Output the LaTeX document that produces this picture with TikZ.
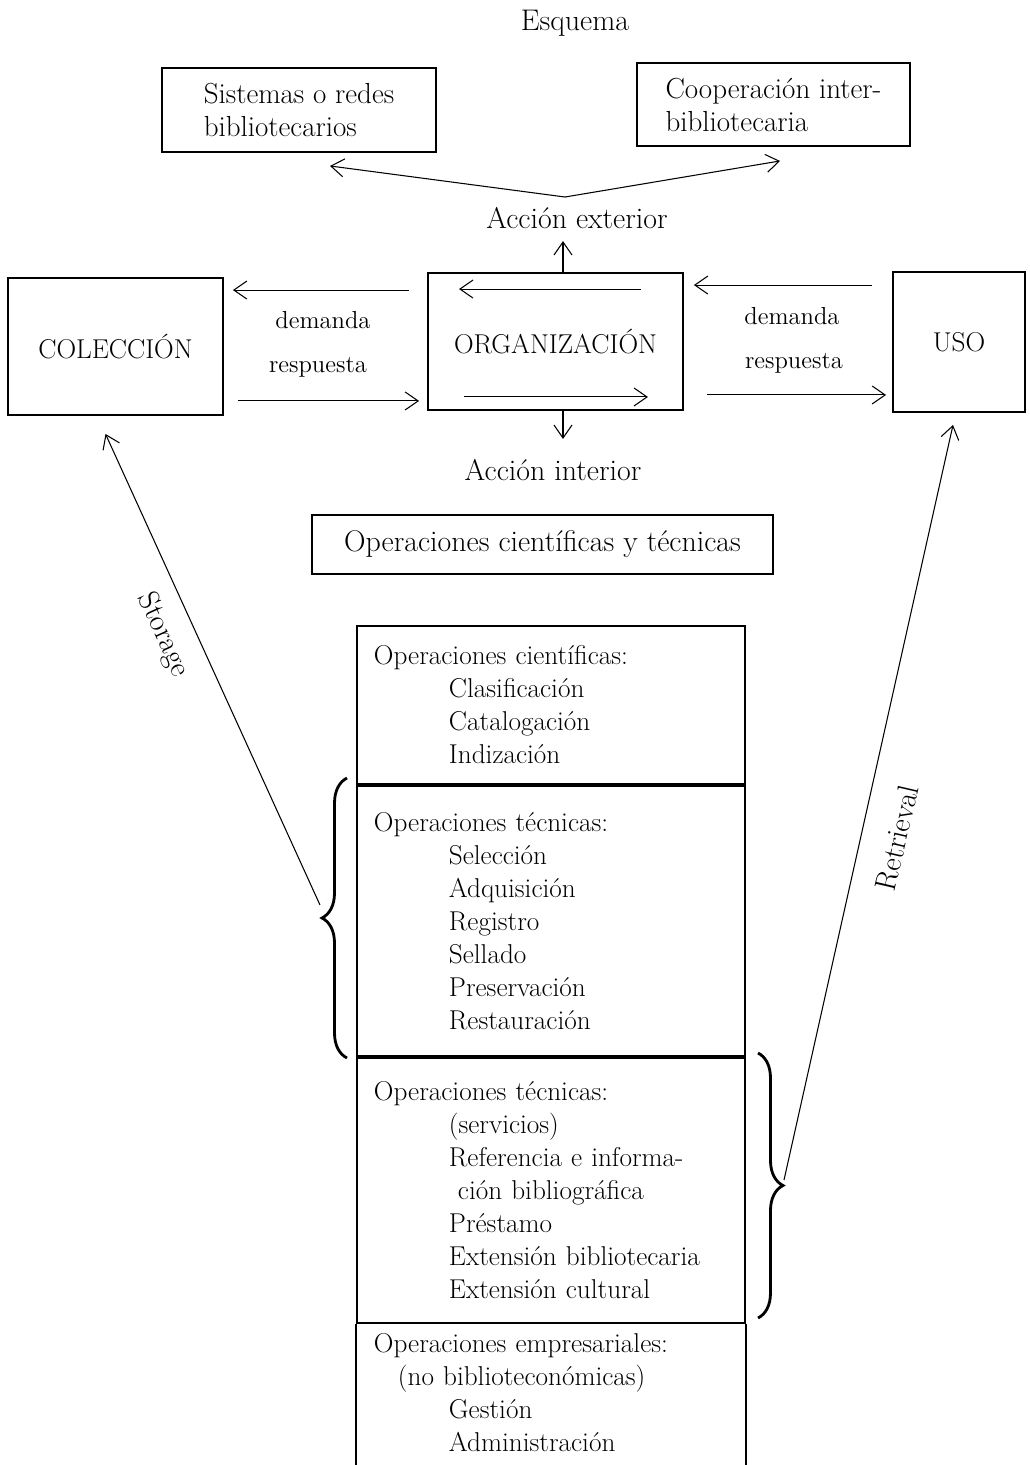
\documentclass[tikz,border=0pt]{standalone}
\usepackage{fontspec}
\usepackage{tikz}
\usetikzlibrary{
  arrows.meta,
  decorations.pathreplacing
}
\newcommand{\esqFont}{\fontsize{15.5}{18.8}\selectfont}
\newcommand{\esqBigFont}{\fontsize{17}{20}\selectfont}
\newcommand{\esqSmallFont}{\fontsize{14}{16}\selectfont}
\newcommand{\opsInd}{\hspace*{1.5cm}}
\tikzset{
  esqBox/.style={
    draw,
    line width=1.1pt,
    align=center,
    font=\esqFont,
    inner sep=4pt
  },
  esqLabel/.style={font=\esqBigFont, inner sep=1pt},
  esqSmall/.style={font=\esqSmallFont, inner sep=1pt},
  esqArrow/.style={-{Straight Barb[length=2.6mm,width=3.6mm]}, line width=0.6pt},
  opsSection/.style={
    draw,
    line width=1.1pt,
    anchor=north west,
    align=left,
    font=\esqFont,
    text width=7.08cm,
    inner xsep=0.34cm
  },
  opsBrace/.style={decorate, decoration={brace, amplitude=5mm}, line width=1.6pt},
  flowLabel/.style={font=\fontsize{17}{19}\selectfont, inner sep=1pt}
}

\begin{document}
\begin{tikzpicture}[x=0.02cm,y=-0.02cm]
  \useasboundingbox (0,0) rectangle (1029,1465);

  % upper part
  \node[esqLabel] (esq) at (575,23) {Esquema};
  \node[esqBox, align=left, font=\fontsize{16.5}{18.8}\selectfont, minimum width=5.48cm, minimum height=1.68cm]
    (sis) at (299,110) {Sistemas o redes\\bibliotecarios};
  \node[esqBox, align=left, font=\fontsize{16.5}{18.8}\selectfont, minimum width=5.46cm, minimum height=1.66cm]
    (coop) at (773.5,104.5) {Cooperación inter-\\bibliotecaria};
  \node[esqLabel] (ext) at (577,218) {Acción exterior};
  \coordinate (extApex) at (565,197);
  \draw[esqArrow] (extApex) -- ([xshift=0.62cm,yshift=-0.26cm]sis.south);
  \draw[esqArrow] (extApex) -- ([xshift=0.13cm,yshift=-0.28cm]coop.south);

  \node[esqBox, minimum width=4.3cm, minimum height=2.74cm] (col) at (115.5,346.5) {COLECCIÓN};
  \node[esqBox, minimum width=5.1cm, minimum height=2.74cm] (org) at (555.5,341.5) {ORGANIZACIÓN};
  \node[esqBox, minimum width=2.64cm, minimum height=2.8cm] (uso) at (959,342) {USO};

  \node[esqSmall] (demL) at (323,320) {demanda};
  \node[esqSmall] (resL) at (318,367) {respuesta};
  \node[esqSmall] (demR) at (792,316) {demanda};
  \node[esqSmall] (resR) at (794,363) {respuesta};

  % demanda / respuesta
  \draw[esqArrow, shorten <=0.36cm, shorten >=0.18cm]
    ([yshift=-0.36cm]org.north west) -- ([yshift=-0.36cm]org.north west -| col.east);
  \draw[esqArrow, shorten <=0.28cm, shorten >=0.16cm]
    ([yshift=0.2cm]org.south west -| col.east) -- ([yshift=0.2cm]org.south west);
  \draw[esqArrow]
    ([xshift=-0.86cm,yshift=-0.34cm]org.north east) -- ([xshift=0.64cm,yshift=-0.34cm]org.north west);
  \draw[esqArrow]
    ([xshift=0.74cm,yshift=0.28cm]org.south west) -- ([xshift=-0.72cm,yshift=0.28cm]org.south east);
  \draw[esqArrow, shorten <=0.4cm, shorten >=0.2cm]
    ([yshift=-0.26cm]org.north east -| uso.west) -- ([yshift=-0.26cm]org.north east);
  \draw[esqArrow, shorten <=0.46cm, shorten >=0.12cm]
    ([yshift=0.32cm]org.south east) -- ([yshift=0.32cm]org.south east -| uso.west);

  \draw[esqArrow] ([xshift=0.15cm]org.north) -- ([xshift=0.15cm,yshift=0.62cm]org.north);
  \draw[esqArrow] ([xshift=0.15cm]org.south) -- ([xshift=0.15cm,yshift=-0.56cm]org.south);
  \node[esqLabel] (int) at (553,470) {Acción interior};

  \node[esqBox, font=\esqBigFont, minimum width=9.22cm, minimum height=1.18cm] (opsCT) at (542.5,544.5)
    {Operaciones científicas y técnicas};

  % operations stack
  \node[opsSection, minimum height=3.16cm] (cient) at (356,625)
    {Operaciones científicas:\\
    \opsInd Clasificación\\
    \opsInd Catalogación\\
    \opsInd Indización};
  \node[opsSection, minimum height=5.4cm] (tecn) at (cient.south west)
    {Operaciones técnicas:\\
    \opsInd Selección\\
    \opsInd Adquisición\\
    \opsInd Registro\\
    \opsInd Sellado\\
    \opsInd Preservación\\
    \opsInd Restauración};
  \node[opsSection, minimum height=5.3cm] (serv) at (tecn.south west)
    {Operaciones técnicas:\\
    \opsInd(servicios)\\
    \opsInd Referencia e informa-\\
    \opsInd\hspace*{0.18cm}ción bibliográfica\\
    \opsInd Préstamo\\
    \opsInd Extensión bibliotecaria\\
    \opsInd Extensión cultural};
  \node[opsSection, draw=none, inner ysep=0.18cm] (empr) at (serv.south west)
    {Operaciones empresariales:\\
    \hspace*{0.48cm}(no biblioteconómicas)\\
    \opsInd Gestión\\
    \opsInd Administración};
  \draw[line width=1.1pt] (serv.south west) -- ++(0,147);
  \draw[line width=1.1pt] (serv.south east) -- ++(0,147);

  % braces, storage and retrieval
  \draw[opsBrace] (347,1058) -- (347,778);
  \draw[opsBrace] (758,1053) -- (758,1318);
  \coordinate (lBraceTip) at (320,905);
  \coordinate (rBraceTip) at (784,1180);
  \coordinate (colFoot) at ([xshift=-0.2cm,yshift=-0.36cm]col.south);
  \coordinate (usoFoot) at ([xshift=-0.12cm,yshift=-0.24cm]uso.south);
  \draw[esqArrow] (lBraceTip) -- (colFoot);
  \draw[esqArrow] (rBraceTip) -- (usoFoot);
  \node[flowLabel, rotate=-65.5] (stor) at (163,635) {Storage};
  \node[flowLabel, rotate=77] (retr) at (897,838) {Retrieval};
\end{tikzpicture}
\end{document}
